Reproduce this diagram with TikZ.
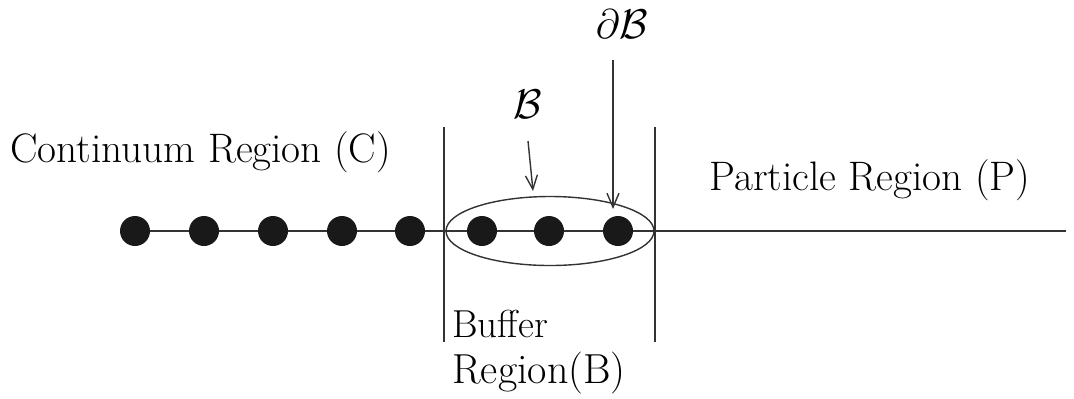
\documentclass[tikz,border=0pt]{standalone}
\usetikzlibrary{arrows.meta,shapes.geometric}
\begin{document}
\begin{tikzpicture}[x=0.5pt,y=-0.5pt,
  dot/.style={circle,fill=black!90,inner sep=0pt,minimum size=15pt},
  lbl/.style={anchor=base west,inner sep=0pt,font=\fontsize{20.6}{24}\selectfont},
  blbl/.style={anchor=base west,inner sep=0pt,font=\fontsize{19.5}{24}\selectfont},
  rlbl/.style={anchor=base west,inner sep=0pt,font=\fontsize{21}{24}\selectfont},
  mlbl/.style={inner sep=0pt,font=\fontsize{21}{24}\selectfont},
  ln/.style={line width=0.7pt,draw=black!80},
  arr/.style={ln,-{Straight Barb[length=7pt,width=6pt]}}]
\useasboundingbox (0,0) rectangle (1074,398);
% axis
\coordinate (start) at (120,231);
\coordinate (stop) at (1066,231);
\draw[ln] (start) -- (stop);
% region boundaries
\coordinate (l1) at (444,127); \coordinate (l2) at (444,342);
\coordinate (r1) at (655,127); \coordinate (r2) at (655,342);
\draw[ln] (l1) -- (l2);
\draw[ln] (r1) -- (r2);
% ellipse
\node[ln,ellipse,draw,minimum width=104pt,minimum height=34.5pt,inner sep=0pt] (ell) at (550,231) {};
% dots
\foreach \i/\x in {1/135,2/204,3/273,4/342,5/410,6/482,7/549,8/618}{
  \node[dot] (d\i) at (\x,231) {};
}
% labels
\node[lbl] (cont) at (10,162) {Continuum Region (C)};
\node[lbl] (part) at (709,190) {Particle Region (P)};
\node[blbl] (buf) at (452,337) {Buffer};
\node[rlbl] (breg) at (452,383) {Region(B)};
\node[mlbl] (B) at (528,104) {$\mathcal{B}$};
\node[mlbl] (dB) at (622,24) {$\partial\mathcal{B}$};
\coordinate (Bs) at (528,141);
\coordinate (Bt) at (533,191);
\coordinate (dBs) at (613,60);
\coordinate (dBt) at (613,209);
\draw[arr] (Bs) -- (Bt);
\draw[arr] (dBs) -- (dBt);
\end{tikzpicture}
\end{document}
